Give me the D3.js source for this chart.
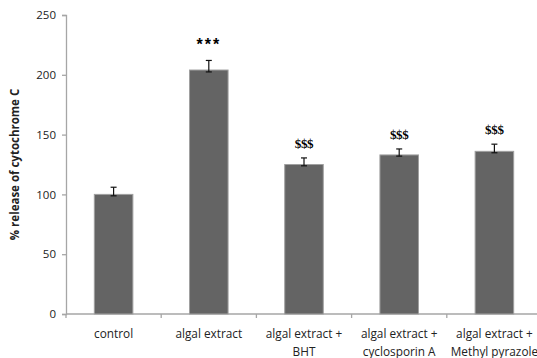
<!DOCTYPE html>
<html><head><meta charset="utf-8">
<script src="https://cdn.jsdelivr.net/npm/d3@7"></script>
<style>body{margin:0;background:#fff}</style>
</head><body>
<svg id="c" width="537" height="358"></svg>
<script>
const categories = [["control"],["algal extract"],["algal extract +","BHT"],["algal extract +","cyclosporin A"],["algal extract +","Methyl pyrazole"]];
const values = [100, 204, 125, 133, 136];
const errors = [6, 8, 5.5, 5, 6];
const marks = ["", "***", "$$$", "$$$", "$$$"];
const yTicks = [0, 50, 100, 150, 200, 250];
const yLabel = "% release of cytochrome C";

const svg = d3.select("#c");
const x0 = 66, x1 = 542, yTop = 15, yBot = 314;
const y = d3.scaleLinear().domain([0, 250]).range([yBot, yTop]);
const x = d3.scaleBand().domain(d3.range(categories.length)).range([x0, x1]).paddingInner(0).paddingOuter(0);
const bw = x.bandwidth() * 0.405;
const axisCol = "#a6a6a6";
const font = "'Open Sans', 'Noto Sans', sans-serif";

// y axis
const yAxis = svg.append("g").attr("transform", `translate(${x0},0)`)
  .call(d3.axisLeft(y).tickValues(yTicks).tickSize(4).tickPadding(6));
yAxis.select(".domain").attr("stroke", axisCol).attr("stroke-width", 1.3);
yAxis.selectAll(".tick line").attr("stroke", axisCol).attr("stroke-width", 1.3);
yAxis.selectAll(".tick text").attr("font-family", font).attr("font-size", 11.5).attr("fill", "#222");

// x axis
const xb = svg.append("g");
xb.append("line").attr("x1", x0).attr("x2", x1).attr("y1", yBot).attr("y2", yBot).attr("stroke", axisCol).attr("stroke-width", 1.3);
d3.range(categories.length + 1).forEach(i => {
  const xx = x0 + i * x.bandwidth();
  xb.append("line").attr("x1", xx).attr("x2", xx).attr("y1", yBot).attr("y2", yBot + 4).attr("stroke", axisCol).attr("stroke-width", 1.3);
});

// bars
svg.append("g").selectAll("rect").data(values).join("rect")
  .attr("x", (d, i) => x(i) + x.bandwidth() / 2 - bw / 2)
  .attr("width", bw)
  .attr("y", d => y(d))
  .attr("height", d => yBot - y(d))
  .attr("fill", "#646464").attr("stroke", "#a0a0a0").attr("stroke-width", 1);

// error bars
const eb = svg.append("g").attr("stroke", "#111").attr("stroke-width", 1.2);
values.forEach((v, i) => {
  const cx = x(i) + x.bandwidth() / 2;
  eb.append("line").attr("x1", cx).attr("x2", cx).attr("y1", y(v - errors[i] * 0.2)).attr("y2", y(v + errors[i]));
  eb.append("line").attr("x1", cx - 3).attr("x2", cx + 3).attr("y1", y(v + errors[i])).attr("y2", y(v + errors[i]));
  eb.append("line").attr("x1", cx - 3).attr("x2", cx + 3).attr("y1", y(v - errors[i] * 0.2)).attr("y2", y(v - errors[i] * 0.2));
});

// annotations
svg.append("g").selectAll("text").data(marks).join("text")
  .attr("x", (d, i) => x(i) + x.bandwidth() / 2)
  .attr("y", (d, i) => y(values[i] + errors[i]) - 10)
  .attr("text-anchor", "middle")
  .attr("font-family", (d) => d.startsWith("$") ? "'Liberation Serif', serif" : "'Liberation Sans', sans-serif")
  .attr("font-weight", "bold")
  .attr("font-size", (d) => d.startsWith("$") ? 13 : 16)
  .attr("letter-spacing", (d) => d.startsWith("$") ? -0.3 : 2)
  .attr("fill", "#000")
  .text(d => d);

// category labels
const cl = svg.append("g");
categories.forEach((lines, i) => {
  lines.forEach((t, j) => {
    cl.append("text").attr("x", x(i) + x.bandwidth() / 2).attr("y", 337.5 + j * 18.5)
      .attr("text-anchor", "middle").attr("font-family", font).attr("font-size", 11.8).attr("fill", "#222").text(t);
  });
});

// y label
svg.append("text").attr("transform", `translate(19,${(yTop + yBot) / 2}) rotate(-90)`)
  .attr("text-anchor", "middle").attr("font-family", font).attr("font-weight", "bold")
  .attr("font-size", 11.5).attr("fill", "#222").text(yLabel);
</script>
</body></html>
